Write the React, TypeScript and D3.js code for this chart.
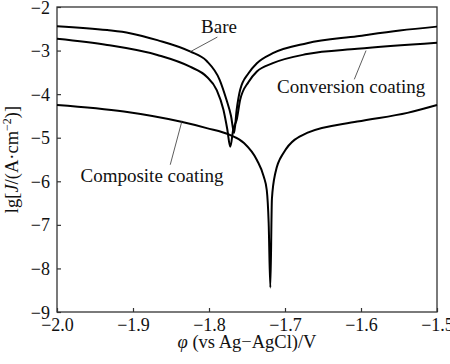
import { useEffect, useRef } from "react";
import * as d3 from "d3";

// potential (V vs Ag-AgCl) and lg J
const bareE = [-2.0, -1.934, -1.904, -1.868, -1.825, -1.803, -1.786, -1.777, -1.771, -1.767, -1.7636, -1.759, -1.748, -1.737, -1.716, -1.671, -1.605, -1.549, -1.5];
const bareLgJ = [-2.44, -2.53, -2.6, -2.76, -3.02, -3.24, -3.67, -4.13, -4.5, -4.89, -4.36, -3.9, -3.52, -3.29, -3.06, -2.83, -2.67, -2.54, -2.45];

const convE = [-2.0, -1.934, -1.868, -1.825, -1.803, -1.79, -1.781, -1.776, -1.772, -1.768, -1.7636, -1.759, -1.748, -1.737, -1.716, -1.671, -1.605, -1.5];
const convLgJ = [-2.73, -2.87, -3.1, -3.37, -3.6, -3.9, -4.36, -4.8, -5.21, -4.8, -4.59, -4.13, -3.72, -3.48, -3.29, -3.08, -2.96, -2.82];

const compE = [-2.0, -1.912, -1.838, -1.803, -1.772, -1.754, -1.737, -1.728, -1.724, -1.7215, -1.7193, -1.7172, -1.7127, -1.702, -1.671, -1.605, -1.539, -1.5];
const compLgJ = [-4.25, -4.4, -4.63, -4.78, -4.94, -5.12, -5.51, -5.89, -6.2, -6.95, -8.44, -6.4, -5.81, -5.35, -4.89, -4.63, -4.43, -4.25];

const xTicks = [-2.0, -1.9, -1.8, -1.7, -1.6, -1.5];
const yTicks = [-9, -8, -7, -6, -5, -4, -3, -2];

// label text, anchor, and leader line (curve end -> label end), in data units
const labels = [
  { text: "Bare", at: [-1.7868, -2.6], line: [[-1.825, -3.03], [-1.789, -2.69]] },
  { text: "Conversion coating", at: [-1.613, -3.97], line: [[-1.5934, -3.0], [-1.6088, -3.66]] },
  { text: "Composite coating", at: [-1.875, -6.01], line: [[-1.8355, -4.61], [-1.851, -5.62]] },
];

const W = 450;
const H = 364;
const FONT = "'Liberation Serif', 'Times New Roman', serif";

export default function App() {
  const svgRef = useRef<SVGSVGElement | null>(null);

  useEffect(() => {
    document.body.style.margin = "0";
    const svg = d3.select(svgRef.current!);
    svg.selectAll("*").remove();

    const x = d3.scaleLinear().domain([-2.0, -1.5]).range([57, 437]);
    const y = d3.scaleLinear().domain([-9, -2]).range([312, 7]);

    const xAxisG = svg.append("g")
      .attr("transform", `translate(0,${y(-9)})`)
      .call(d3.axisBottom(x).tickValues(xTicks).tickSizeInner(-4).tickSizeOuter(0).tickFormat(d3.format(".1f")));
    const yAxisG = svg.append("g")
      .attr("transform", `translate(${x(-2)},0)`)
      .call(d3.axisLeft(y).tickValues(yTicks).tickSizeInner(-4).tickSizeOuter(0).tickFormat(d3.format("d")));

    [xAxisG, yAxisG].forEach((g) => {
      g.select(".domain").remove();
      g.selectAll("line").attr("stroke", "#333").attr("stroke-width", 1.2);
      g.selectAll("text").attr("font-family", FONT).attr("font-size", 18).attr("fill", "#111");
    });
    xAxisG.selectAll("text").attr("y", 19).attr("dy", 0);
    yAxisG.selectAll("text").attr("x", -7).attr("dy", "0.34em");

    svg.append("rect")
      .attr("x", x(-2)).attr("y", y(-2))
      .attr("width", x(-1.5) - x(-2)).attr("height", y(-9) - y(-2))
      .attr("fill", "none").attr("stroke", "#333").attr("stroke-width", 1.3);

    const line = d3.line<[number, number]>()
      .x((d) => x(d[0]))
      .y((d) => y(d[1]))
      .curve(d3.curveMonotoneX);

    const series: [number[], number[]][] = [[bareE, bareLgJ], [convE, convLgJ], [compE, compLgJ]];
    series.forEach(([es, js]) => {
      svg.append("path")
        .datum(es.map((e, i) => [e, js[i]] as [number, number]))
        .attr("fill", "none")
        .attr("stroke", "#000")
        .attr("stroke-width", 2)
        .attr("stroke-linejoin", "round")
        .attr("d", line);
    });

    labels.forEach((l) => {
      svg.append("line")
        .attr("x1", x(l.line[0][0])).attr("y1", y(l.line[0][1]))
        .attr("x2", x(l.line[1][0])).attr("y2", y(l.line[1][1]))
        .attr("stroke", "#333").attr("stroke-width", 0.8);
      svg.append("text")
        .attr("x", x(l.at[0])).attr("y", y(l.at[1]))
        .attr("text-anchor", "middle")
        .attr("font-family", FONT).attr("font-size", 19)
        .attr("fill", "#111")
        .text(l.text);
    });

    const xt = svg.append("text")
      .attr("x", (x(-2) + x(-1.5)) / 2).attr("y", 348)
      .attr("text-anchor", "middle")
      .attr("font-family", FONT).attr("font-size", 18.5).attr("fill", "#111");
    xt.append("tspan").attr("font-style", "italic").text("φ");
    xt.append("tspan").text(" (vs Ag\u2212AgCl)/V");

    const yt = svg.append("text")
      .attr("transform", `translate(18,${(y(-2) + y(-9)) / 2}) rotate(-90)`)
      .attr("text-anchor", "middle")
      .attr("font-family", FONT).attr("font-size", 18.5).attr("fill", "#111");
    yt.append("tspan").text("lg[");
    yt.append("tspan").attr("font-style", "italic").text("J");
    yt.append("tspan").text("/(A\u00b7cm");
    yt.append("tspan").attr("font-size", 12).attr("dy", -7).text("\u22122");
    yt.append("tspan").attr("dy", 7).text(")]");
  }, []);

  return <svg ref={svgRef} width={W} height={H} style={{ display: "block", background: "#fff" }} />;
}
